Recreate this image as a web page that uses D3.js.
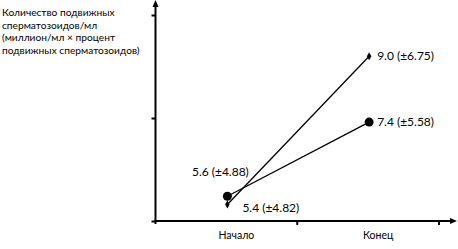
<!DOCTYPE html>
<html>
<head>
<meta charset="utf-8">
<script src="https://cdn.jsdelivr.net/npm/d3@7"></script>
<style>
  body { margin: 0; background: #fff; }
  svg { display: block; font-family: Lato, sans-serif; }
</style>
</head>
<body>
<div class="svg-container"></div>
<script>
// data
let categories = ['Начало', 'Конец'];
let circleValues = [5.6, 7.4];
let circleErrors = [4.88, 5.58];
let diamondValues = [5.4, 9.0];
let diamondErrors = [4.82, 6.75];
let yTicks = [5, 7.5, 10];
let yTitle = ['Количество подвижных', 'сперматозоидов/мл', '(миллион/мл × процент', 'подвижных сперматозоидов)'];

let width = 458;
let height = 249;
let axisX = 155.5;
let axisY = 221;

let xScale = d3.scaleBand()
  .domain(categories)
  .range([axisX, 439])

let yScale = d3.scaleLinear()
  .domain([5, 10])
  .range([axisY, 15])

let svg = d3.select('.svg-container')
  .append('svg')
  .attr('width', width)
  .attr('height', height)

// title in the corner
svg.append('text')
  .attr('x', 2)
  .attr('y', 16)
  .style('font-size', '10.2px')
  .selectAll('tspan')
  .data(yTitle)
  .enter()
  .append('tspan')
  .attr('x', 2)
  .attr('dy', (d, i) => i === 0 ? 0 : 12.5)
  .text(d => d)

// y axis ticks, no labels
let yAxis = d3.axisLeft(yScale)
  .tickValues(yTicks)
  .tickSize(4)
  .tickFormat('')

svg.append('g')
  .attr('transform', `translate(${axisX}, 0)`)
  .call(yAxis)
  .call(g => g.select('.domain').remove())
  .call(g => g.selectAll('line').attr('stroke-width', 2))

// x axis labels
let xAxis = d3.axisBottom(xScale)
  .tickSize(0)
  .tickPadding(11)

svg.append('g')
  .attr('transform', `translate(0, ${axisY})`)
  .call(xAxis)
  .call(g => g.select('.domain').remove())
  .call(g => g.selectAll('text')
    .attr('dx', 10)
    .style('font-size', '10.5px')
    .style('font-family', 'Lato, sans-serif'))

// x ticks on the band edges
svg.append('g')
  .selectAll('line')
  .data(categories)
  .enter()
  .append('line')
  .attr('x1', d => xScale(d) + xScale.bandwidth())
  .attr('x2', d => xScale(d) + xScale.bandwidth())
  .attr('y1', axisY - 1)
  .attr('y2', axisY + 4)
  .attr('stroke', '#000')
  .attr('stroke-width', 2)

// axis lines with arrows
svg.append('line')
  .attr('x1', axisX).attr('x2', axisX)
  .attr('y1', axisY + 3).attr('y2', 5)
  .attr('stroke', '#000')
  .attr('stroke-width', 2)

svg.append('path')
  .attr('d', `M${axisX - 3},7 L${axisX},0 L${axisX + 3},7 Z`)
  .attr('fill', '#000')

svg.append('line')
  .attr('x1', axisX - 1).attr('x2', 452)
  .attr('y1', axisY).attr('y2', axisY)
  .attr('stroke', '#000')
  .attr('stroke-width', 2)

svg.append('path')
  .attr('d', `M450,${axisY - 3} L457,${axisY} L450,${axisY + 3} Z`)
  .attr('fill', '#000')

let cx = d => xScale(d) + xScale.bandwidth() / 2 + 1;

let line = d3.line()
  .x(d => cx(d.cat))
  .y(d => yScale(d.value))

let circleSeries = categories.map((c, i) => ({cat: c, value: circleValues[i], err: circleErrors[i]}))
let diamondSeries = categories.map((c, i) => ({cat: c, value: diamondValues[i], err: diamondErrors[i]}))

svg.append('path')
  .datum(diamondSeries)
  .attr('d', line)
  .attr('fill', 'none')
  .attr('stroke', '#000')
  .attr('stroke-width', 1.3)

svg.append('path')
  .datum(circleSeries)
  .attr('d', line)
  .attr('fill', 'none')
  .attr('stroke', '#000')
  .attr('stroke-width', 1.3)

svg.selectAll('circle.pt')
  .data(circleSeries)
  .enter()
  .append('circle')
  .attr('class', 'pt')
  .attr('cx', d => cx(d.cat))
  .attr('cy', d => yScale(d.value))
  .attr('r', 4.5)
  .attr('fill', '#000')

svg.selectAll('path.dm')
  .data(diamondSeries)
  .enter()
  .append('path')
  .attr('class', 'dm')
  .attr('d', d3.symbol().type(d3.symbolDiamond).size(18))
  .attr('transform', d => `translate(${cx(d.cat)}, ${yScale(d.value)})`)
  .attr('fill', '#000')

let label = d => `${d.value.toFixed(1)} (±${d.err.toFixed(2)})`;

// value labels: end labels to the right, start labels above / below-right
let labelPos = [
  {d: circleSeries[0], dx: -7, dy: -20, anchor: 'middle'},
  {d: diamondSeries[0], dx: 15, dy: 7, anchor: 'start'},
  {d: circleSeries[1], dx: 8, dy: 4, anchor: 'start'},
  {d: diamondSeries[1], dx: 8, dy: 4, anchor: 'start'}
]

svg.selectAll('text.val')
  .data(labelPos)
  .enter()
  .append('text')
  .attr('class', 'val')
  .attr('x', p => cx(p.d.cat) + p.dx)
  .attr('y', p => yScale(p.d.value) + p.dy)
  .attr('text-anchor', p => p.anchor)
  .style('font-size', '12px')
  .text(p => label(p.d))
</script>
</body>
</html>
